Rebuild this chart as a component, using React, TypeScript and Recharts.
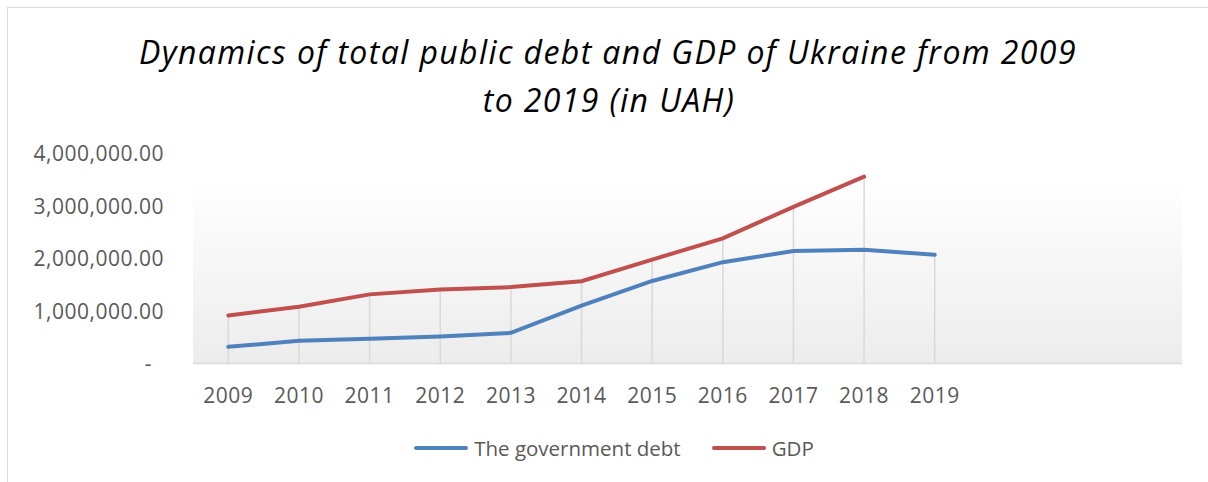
import React from 'react';
import { LineChart, Line, XAxis, YAxis, CartesianGrid, ReferenceLine, Legend } from 'recharts';

const years = ['2009', '2010', '2011', '2012', '2013', '2014', '2015', '2016', '2017', '2018', '2019', ' ', '  ', '   '];
const debt = [316900, 432235, 473122, 515511, 584114, 1100564, 1572180, 1929759, 2141674, 2168627, 2070000, null, null, null];
const gdp = [913345, 1082569, 1316600, 1408889, 1454931, 1566728, 1979458, 2383182, 2982920, 3558706, null, null, null, null];
const yTicks = [0, 1000000, 2000000, 3000000, 4000000];
const titleLines = ['Dynamics of total public debt and GDP of Ukraine from 2009', 'to 2019 (in UAH)'];
const seriesNames = ['The government debt', 'GDP'];

const data = years.map((y, i) => ({ year: y, debt: debt[i], gdp: gdp[i] }));

const FONT = '"Open Sans", sans-serif';
const BLUE = '#4f81bd';
const RED = '#c0504d';

const fmt = (v: number) =>
  v === 0 ? '-' : v.toLocaleString('en-US', { minimumFractionDigits: 2, maximumFractionDigits: 2 });

const YTick = (props: any) => {
  const { x, y, payload } = props;
  const v = payload.value;
  return (
    <text x={v === 0 ? x - 12 : x} y={y} dy={7.5} textAnchor="end" fill="#595959" fontSize={21} letterSpacing={0.5} fontFamily={FONT}>
      {fmt(v)}
    </text>
  );
};

const XTick = (props: any) => {
  const { x, y, payload } = props;
  return (
    <text x={x} y={y} dy={39} textAnchor="middle" fill="#595959" fontSize={21} letterSpacing={0.5} fontFamily={FONT}>
      {String(payload.value).trim()}
    </text>
  );
};

const LegendContent = () => (
  <div style={{ display: 'flex', justifyContent: 'center', alignItems: 'center', fontFamily: FONT, fontSize: 20.5, color: '#595959' }}>
    {[BLUE, RED].map((c, i) => (
      <div key={i} style={{ display: 'flex', alignItems: 'center', marginRight: i === 0 ? 31 : 0 }}>
        <div style={{ width: 54, height: 4, background: c, borderRadius: 2, marginRight: 6 }} />
        <span>{seriesNames[i]}</span>
      </div>
    ))}
  </div>
);

export default function App() {
  return (
    <div style={{ position: 'absolute', left: 0, top: 0, width: 1208, height: 482, background: '#fff', overflow: 'hidden' }}>
      <div style={{ position: 'absolute', left: 7, top: 7, width: 1300, height: 600, borderTop: '1.5px solid #d9d9d9', borderLeft: '1.5px solid #d9d9d9' }} />
      <LineChart width={1208} height={482} data={data} margin={{ top: 153.5, right: 26, bottom: 78.5, left: 0 }} style={{ position: 'absolute', left: 0, top: 0 }}>
        <defs>
          <linearGradient id="plotBg" x1="0" y1="0" x2="0" y2="1">
            <stop offset="0%" stopColor="#ffffff" />
            <stop offset="12%" stopColor="#ffffff" />
            <stop offset="100%" stopColor="#ececec" />
          </linearGradient>
        </defs>
        <text x={608} y={64} textAnchor="middle" fontFamily={FONT} fontStyle="italic" fontSize={32} letterSpacing={1.4} fill="#000">
          {titleLines[0]}
        </text>
        <text x={609} y={112} textAnchor="middle" fontFamily={FONT} fontStyle="italic" fontSize={32} letterSpacing={1.4} fill="#000">
          {titleLines[1]}
        </text>
        <CartesianGrid horizontal={false} vertical={false} fill="url(#plotBg)" />
        <XAxis dataKey="year" scale="band" allowDuplicatedCategory={false} height={40} tickLine={false} tickSize={0} tickMargin={0} axisLine={{ stroke: '#d9d9d9', strokeWidth: 1.5 }} tick={<XTick />} interval={0} />
        <YAxis width={193} domain={[0, 4000000]} ticks={yTicks} axisLine={false} tickLine={false} tickSize={0} tickMargin={29} tick={<YTick />} />
        {years.map((y, i) => {
          const top = Math.max(debt[i] ?? 0, gdp[i] ?? 0);
          if (top === 0) return null;
          return (
            <ReferenceLine key={y} segment={[{ x: y, y: 0 }, { x: y, y: top }]} stroke="#d9d9d9" strokeWidth={1.5} />
          );
        })}
        <Line type="linear" dataKey="debt" name={seriesNames[0]} stroke={BLUE} strokeWidth={4} dot={false} isAnimationActive={false} strokeLinecap="round" />
        <Line type="linear" dataKey="gdp" name={seriesNames[1]} stroke={RED} strokeWidth={4} dot={false} isAnimationActive={false} strokeLinecap="round" />
        <Legend layout="horizontal" verticalAlign="middle" align="center" content={<LegendContent />} wrapperStyle={{ top: 434, left: 10, width: 1208 }} />
      </LineChart>
    </div>
  );
}
